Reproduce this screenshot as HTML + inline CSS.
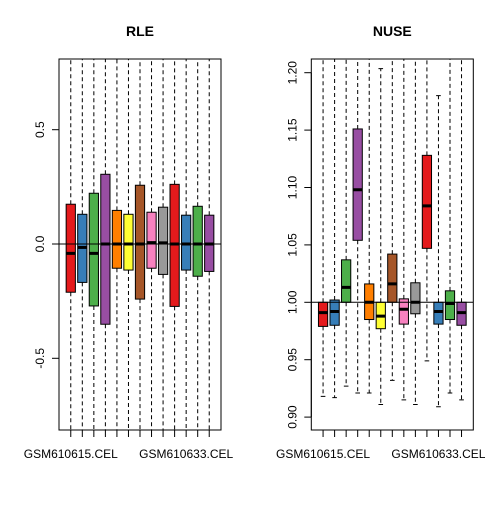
<!DOCTYPE html>
<html><head><meta charset="utf-8"><style>
body{margin:0;background:#fff}
svg text{font-family:"Liberation Sans",Arial,sans-serif}
</style></head><body>
<svg id="c" width="504" height="504" xmlns="http://www.w3.org/2000/svg">
<defs>
<clipPath id="cl"><rect x="59" y="59" width="162" height="371"/></clipPath>
<clipPath id="cr"><rect x="311.3" y="59" width="162" height="371"/></clipPath>
</defs>
<rect width="504" height="504" fill="#fff"/>
</svg>
<script>
const colors=["#E41A1C","#377EB8","#4DAF4A","#984EA3","#FF7F00","#FFFF33","#A65628","#F781BF","#999999","#E41A1C","#377EB8","#4DAF4A","#984EA3"];
const xLabels=["GSM610615.CEL","GSM610633.CEL"];
const xLabelIdx=[1,11];
// RLE
const rleQ1=[-0.211,-0.168,-0.271,-0.351,-0.106,-0.114,-0.241,-0.106,-0.133,-0.273,-0.114,-0.141,-0.120];
const rleMed=[-0.041,-0.015,-0.041,0,0,0,0,0.006,0.005,0,0,0,0];
const rleQ3=[0.174,0.130,0.222,0.305,0.147,0.130,0.257,0.139,0.161,0.261,0.126,0.165,0.126];
const rleLo=[-1,-1,-1,-1,-1,-1,-1,-1,-1,-1,-1,-1,-1];
const rleHi=[1,1,1,1,1,1,1,1,1,1,1,1,1];
const rleTicks=[-0.5,0,0.5];
const rleTickLabels=["-0.5","0.0","0.5"];
// NUSE
const nuseQ1=[0.979,0.980,1.000,1.054,0.985,0.977,1.000,0.981,0.990,1.047,0.981,0.985,0.980];
const nuseMed=[0.991,0.992,1.013,1.098,1.000,0.988,1.016,0.994,1.000,1.084,0.992,0.999,0.991];
const nuseQ3=[1.000,1.002,1.037,1.151,1.016,1.000,1.042,1.003,1.017,1.128,1.000,1.010,1.000];
const nuseLo=[0.918,0.917,0.927,0.921,0.921,0.911,0.932,0.915,0.911,0.949,0.909,0.921,0.915];
const nuseHi=[1.3,1.3,1.3,1.3,1.3,1.2035,1.3,1.3,1.3,1.3,1.180,1.3,1.3];
const nuseTicks=[0.90,0.95,1.00,1.05,1.10,1.15,1.20];
const nuseTickLabels=["0.90","0.95","1.00","1.05","1.10","1.15","1.20"];

const NS="http://www.w3.org/2000/svg";
const svg=document.getElementById('c');
function mk(tag,attrs,parent){const e=document.createElementNS(NS,tag);for(const k in attrs)e.setAttribute(k,attrs[k]);(parent||svg).appendChild(e);return e;}

function panel(o){
  const L=o.L,T=59,W=162,H=371,B=T+H;
  const step=W/14.04;
  const xs=i=>L+(0.52+0.5+i)*step;
  const ys=v=>o.y0-(v-o.v0)*o.k;
  const g=mk('g',{});
  
  
  const pg=mk('g',{'clip-path':'url(#'+o.clip+')'},g);
  for(let i=0;i<o.q1.length;i++){
    const x=xs(i),hw=step*0.4;
    const bx=mk('g',{},pg);
    
    
    mk('line',{x1:x,x2:x,y1:ys(o.q3[i]),y2:ys(o.hi[i]),stroke:'#000','stroke-dasharray':'4,3'},bx);
    mk('line',{x1:x,x2:x,y1:ys(o.q1[i]),y2:ys(o.lo[i]),stroke:'#000','stroke-dasharray':'4,3'},bx);
    if(o.hi[i]<o.maxV) mk('line',{x1:x-hw/2,x2:x+hw/2,y1:ys(o.hi[i]),y2:ys(o.hi[i]),stroke:'#000'},bx);
    if(o.lo[i]>o.minV) mk('line',{x1:x-hw/2,x2:x+hw/2,y1:ys(o.lo[i]),y2:ys(o.lo[i]),stroke:'#000'},bx);
    mk('rect',{x:x-hw,y:ys(o.q3[i]),width:2*hw,height:ys(o.q1[i])-ys(o.q3[i]),fill:colors[i],stroke:'#000','stroke-width':1},bx);
    mk('line',{x1:x-hw,x2:x+hw,y1:ys(o.med[i]),y2:ys(o.med[i]),stroke:'#000','stroke-width':3},bx);
  }
  const ref=mk('line',{x1:L,x2:L+W,y1:ys(o.ref),y2:ys(o.ref),stroke:'#000'},g);
  
  
  const fr=mk('rect',{x:L,y:T,width:W,height:H,fill:'none',stroke:'#000'},g);
  
  
  const t=mk('text',{x:L+W/2,y:36,'text-anchor':'middle','font-size':14,'font-weight':'bold'},g);
  t.textContent=o.title;
  
  
  for(let i=0;i<o.q1.length;i++){
    mk('line',{x1:xs(i),x2:xs(i),y1:B,y2:B+7,stroke:'#000'},g);
  }
  mk('line',{x1:xs(0),x2:xs(o.q1.length-1),y1:B,y2:B,stroke:'#000'},g);
  xLabelIdx.forEach((idx,j)=>{
    const tx=mk('text',{x:xs(idx-1),y:458,'text-anchor':'middle','font-size':12},g);
    tx.textContent=xLabels[j];
    
    
  });
  mk('line',{x1:L,x2:L,y1:ys(o.ticks[0]),y2:ys(o.ticks[o.ticks.length-1]),stroke:'#000'},g);
  o.ticks.forEach((v,j)=>{
    const y=ys(v);
    mk('line',{x1:L-7,x2:L,y1:y,y2:y,stroke:'#000'},g);
    const tx=mk('text',{x:L-15,y:y,'text-anchor':'middle','font-size':12,transform:'rotate(-90 '+(L-15)+' '+y+')'},g);
    tx.textContent=o.tickLabels[j];
    
    
  });
}
panel({name:'rle',title:'RLE',L:59,clip:'cl',y0:244,v0:0,k:228.6,q1:rleQ1,med:rleMed,q3:rleQ3,lo:rleLo,hi:rleHi,ref:0,ticks:rleTicks,tickLabels:rleTickLabels,minV:-0.8,maxV:0.8});
panel({name:'nuse',title:'NUSE',L:311.3,clip:'cr',y0:302.3,v0:1,k:1148,q1:nuseQ1,med:nuseMed,q3:nuseQ3,lo:nuseLo,hi:nuseHi,ref:1,ticks:nuseTicks,tickLabels:nuseTickLabels,minV:0.89,maxV:1.21});
</script>
</body></html>
